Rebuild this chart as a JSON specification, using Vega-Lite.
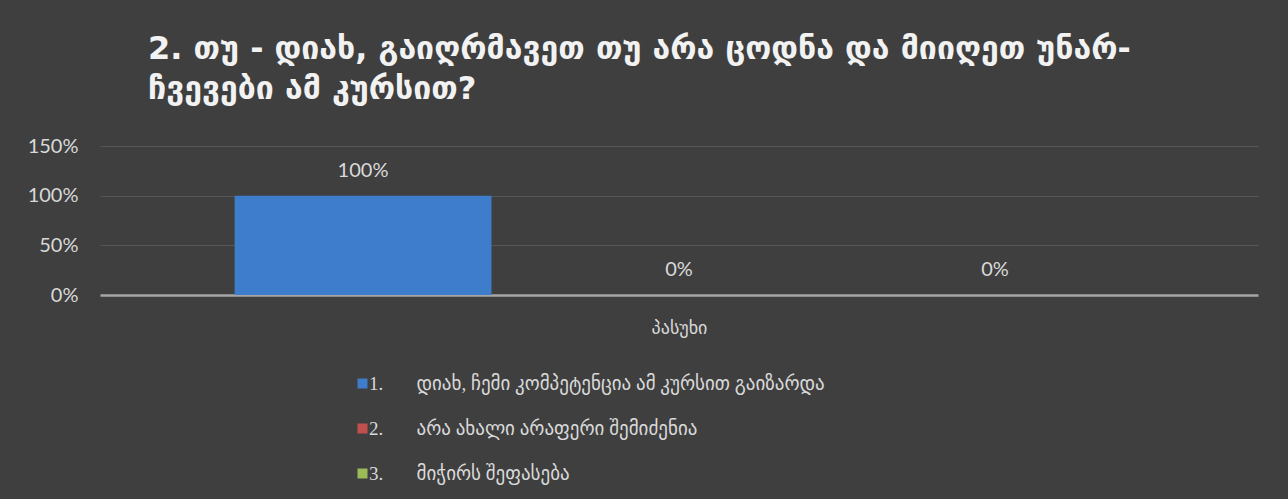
{
  "$schema": "https://vega.github.io/schema/vega-lite/v6.json",
  "width": 1158,
  "height": 149,
  "autosize": {"type": "none"},
  "padding": {"left": 100, "top": 146, "right": 30, "bottom": 204},
  "background": "#3f3f3f",
  "title": {
    "text": ["2. თუ - დიახ, გაიღრმავეთ თუ არა ცოდნა და მიიღეთ უნარ-", "ჩვევები ამ კურსით?"],
    "anchor": "start",
    "frame": "group",
    "dx": 48,
    "font": "DejaVu Sans",
    "fontSize": 32,
    "fontWeight": "bold",
    "color": "#f2f2f2",
    "lineHeight": 40,
    "offset": 30
  },
  "data": {
    "values": [
      {"series": "1.\u00a0\u00a0\u00a0\u00a0\u00a0\u00a0 დიახ, ჩემი კომპეტენცია ამ კურსით გაიზარდა", "value": 1.0},
      {"series": "2.\u00a0\u00a0\u00a0\u00a0\u00a0\u00a0 არა ახალი არაფერი შემიძენია", "value": 0.0},
      {"series": "3.\u00a0\u00a0\u00a0\u00a0\u00a0\u00a0 მიჭირს შეფასება", "value": 0.0}
    ]
  },
  "encoding": {
    "x": {
      "field": "series",
      "type": "nominal",
      "sort": null,
      "scale": {"paddingInner": 0.187, "paddingOuter": 0.426},
      "axis": {
        "labels": false,
        "ticks": false,
        "domain": true,
        "domainColor": "#a6a6a6",
        "domainWidth": 2.5,
        "grid": false,
        "title": "პასუხი",
        "titleFont": "DejaVu Sans",
        "titleFontSize": 18,
        "titleFontWeight": "normal",
        "titleColor": "#d9d9d9",
        "titlePadding": 24
      }
    },
    "y": {
      "field": "value",
      "type": "quantitative",
      "scale": {"domain": [0, 1.5], "nice": false},
      "axis": {
        "values": [0, 0.5, 1, 1.5],
        "format": ".0%",
        "title": null,
        "domain": false,
        "ticks": false,
        "grid": true,
        "gridColor": "#575757",
        "gridWidth": 1.2,
        "labelFont": "Lato",
        "labelFontSize": 20,
        "labelColor": "#d9d9d9",
        "labelPadding": 22
      }
    }
  },
  "layer": [
    {
      "mark": {"type": "bar"},
      "encoding": {
        "color": {
          "field": "series",
          "type": "nominal",
          "sort": null,
          "scale": {"range": ["#3e7dcc", "#c0504d", "#9bbb59"]},
          "legend": {
            "orient": "none",
            "legendX": 253,
            "legendY": 228,
            "direction": "vertical",
            "title": null,
            "symbolType": "square",
            "symbolSize": 100,
            "symbolStrokeWidth": 0,
            "labelFont": "Liberation Serif, DejaVu Sans",
            "labelFontSize": 19,
            "labelColor": "#d9d9d9",
            "labelLimit": 0,
            "labelOffset": -3,
            "rowPadding": 25,
            "padding": 0
          }
        }
      }
    },
    {
      "mark": {"type": "text", "dy": -25, "baseline": "middle", "font": "Lato", "fontSize": 20, "color": "#d9d9d9"},
      "encoding": {
        "text": {"field": "value", "type": "quantitative", "format": ".0%"}
      }
    }
  ],
  "config": {
    "view": {"stroke": null}
  }
}
